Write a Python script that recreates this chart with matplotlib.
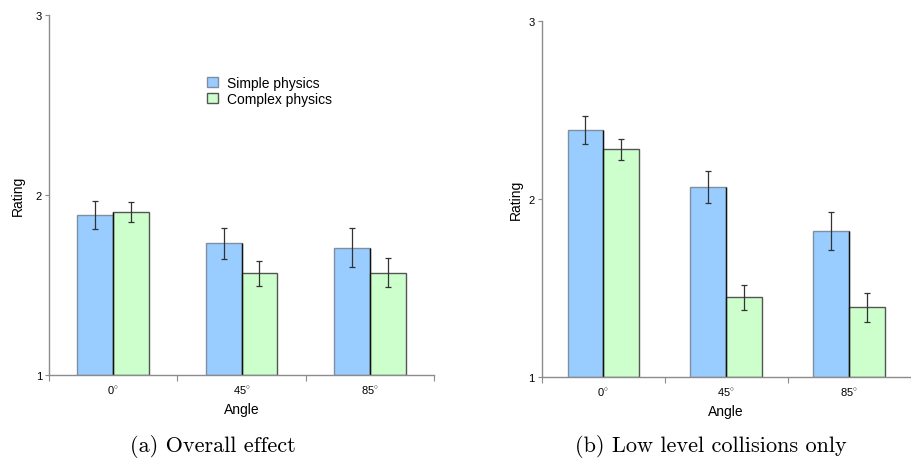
import matplotlib
matplotlib.use("Agg")
import matplotlib.pyplot as plt
import numpy as np

categories = ["0$^{\\circ}$", "45$^{\\circ}$", "85$^{\\circ}$"]
series = ["Simple physics", "Complex physics"]

overall_simple = [1.889, 1.731, 1.707]
overall_simple_err = [0.080, 0.088, 0.107]
overall_complex = [1.906, 1.565, 1.568]
overall_complex_err = [0.056, 0.071, 0.081]

low_simple = [2.388, 2.067, 1.817]
low_simple_err = [0.080, 0.088, 0.107]
low_complex = [2.278, 1.446, 1.390]
low_complex_err = [0.058, 0.070, 0.080]

captions = ["(a) Overall effect", "(b) Low level collisions only"]

plt.rcParams['font.family'] = ['Liberation Sans', 'DejaVu Sans']
plt.rcParams['mathtext.fontset'] = 'custom'
plt.rcParams['mathtext.rm'] = 'Liberation Sans'
plt.rcParams['mathtext.it'] = 'Liberation Sans'

fig = plt.figure(figsize=(9.11, 4.6), dpi=100)
ax1 = fig.add_axes([0.0538, 0.1826, 0.4226, 0.7826])
ax2 = fig.add_axes([0.5946, 0.1789, 0.4050, 0.7733])

blue = '#99ccff'
green = '#ccffcc'
axis_gray = '#8c8c8c'

def draw(ax, s, se, c, ce, w, legend, ylabelpad):
    x = np.arange(len(categories)) + 0.5
    ax.bar(x - w / 2, [v - 1 for v in s], w, bottom=1, color=blue,
           edgecolor='#7f8f9f', linewidth=1.0, label=series[0], zorder=2)
    ax.bar(x + w / 2, [v - 1 for v in c], w, bottom=1, color=green,
           edgecolor='#555555', linewidth=1.0, label=series[1], zorder=2)
    # black divider where the two bars meet
    ax.vlines(x, 1, np.maximum(s, c), colors='#111111', linewidth=1.0, zorder=2.5)
    ax.errorbar(x - w / 2, s, yerr=se, fmt='none', ecolor='#333333',
                elinewidth=0.9, capsize=2.3, capthick=0.9, zorder=3)
    ax.errorbar(x + w / 2, c, yerr=ce, fmt='none', ecolor='#333333',
                elinewidth=0.9, capsize=2.3, capthick=0.9, zorder=3)
    ax.set_xlim(0, len(categories))
    ax.set_ylim(1, 3)
    ax.set_yticks([1, 2, 3])
    ax.set_yticklabels(['1', '2', '3'], fontsize=8)
    ax.set_xticks(np.arange(len(categories) + 1))
    ax.set_xticklabels([])
    ax.set_xticks(x, minor=True)
    ax.set_xticklabels(categories, minor=True, fontsize=8)
    ax.tick_params(axis='x', which='major', length=4, color=axis_gray, direction='out')
    ax.tick_params(axis='x', which='minor', length=0, pad=6)
    ax.tick_params(axis='y', length=3, color=axis_gray, pad=2)
    for sp in ['top', 'right']:
        ax.spines[sp].set_visible(False)
    for sp in ['left', 'bottom']:
        ax.spines[sp].set_color(axis_gray)
        ax.spines[sp].set_linewidth(1.0)
    ax.set_xlabel('Angle', fontsize=10, labelpad=5)
    ax.set_ylabel('Rating', fontsize=10, labelpad=ylabelpad)
    if legend:
        ax.legend(loc='upper left', bbox_to_anchor=(0.393, 0.85), frameon=False,
                  fontsize=10, handlelength=0.75, handleheight=0.75,
                  handletextpad=0.7, labelspacing=0.15, borderpad=0)

draw(ax1, overall_simple, overall_simple_err, overall_complex, overall_complex_err, 0.28, True, 8)
draw(ax2, low_simple, low_simple_err, low_complex, low_complex_err, 0.29, False, 4)

fig.text(0.2337, 0.029, captions[0], family='cmr10', fontsize=16, ha='center', va='center')
fig.text(0.7805, 0.029, captions[1], family='cmr10', fontsize=16, ha='center', va='center')

fig.savefig('out.png', dpi=100)
